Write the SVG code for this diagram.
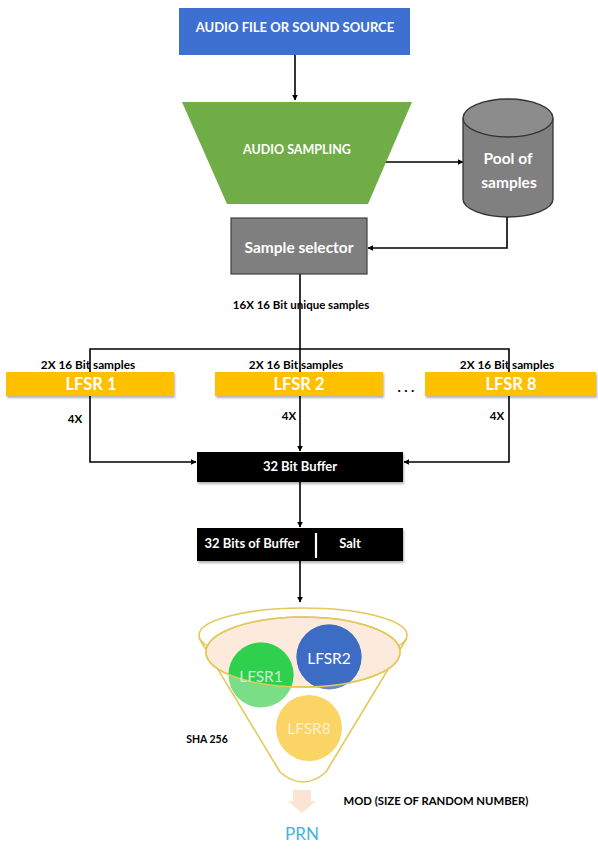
<svg xmlns="http://www.w3.org/2000/svg" width="598" height="850" viewBox="0 0 598 850">
<defs>
<style>
text{font-family:Lato,"Open Sans","Liberation Sans",sans-serif;text-anchor:middle;dominant-baseline:central}
.w{fill:#fff;font-weight:bold}
.k{fill:#000;font-weight:bold}
.ln{stroke:#000;stroke-width:1.6;fill:none}
.lfsr{fill:#FFC000}
</style>
<marker id="ah" viewBox="0 0 10 10" refX="9" refY="5" markerWidth="6" markerHeight="6" orient="auto" markerUnits="userSpaceOnUse">
<path d="M0,0 L10,5 L0,10 z" fill="#000"/>
</marker>
<filter id="sh" x="-5%" y="-20%" width="110%" height="150%">
<feDropShadow dx="1" dy="2" stdDeviation="1.2" flood-color="#000" flood-opacity="0.3"/>
</filter>
<clipPath id="inner"><ellipse cx="303" cy="652" rx="97" ry="35"/></clipPath>
</defs>
<rect width="598" height="850" fill="#fff"/>

<g id="connectors">
<line class="ln" x1="295" y1="55" x2="295" y2="100" marker-end="url(#ah)"/>
<line class="ln" x1="382" y1="162" x2="463" y2="162" marker-end="url(#ah)"/>
<polyline class="ln" points="507,217 507,248 368,248" marker-end="url(#ah)"/>
<line class="ln" x1="300" y1="274" x2="300" y2="451" marker-end="url(#ah)"/>
<polyline class="ln" points="90,372 90,349 509,349 509,372"/>
<polyline class="ln" points="90,396 90,462 196,462" marker-end="url(#ah)"/>
<polyline class="ln" points="509,396 509,462 404,462" marker-end="url(#ah)"/>
<line class="ln" x1="300" y1="482" x2="300" y2="527" marker-end="url(#ah)"/>
<line class="ln" x1="300" y1="561" x2="300" y2="602" marker-end="url(#ah)"/>
</g>

<g id="audio-source">
<rect x="179" y="8" width="231" height="47" fill="#3E70D2"/>
<text class="w" x="295" y="27" font-size="13">AUDIO FILE OR SOUND SOURCE</text>
</g>

<g id="audio-sampling">
<polygon points="182,102 412,102 368,204 227,204" fill="#70AD47"/>
<text class="w" x="297" y="149" font-size="12.5">AUDIO SAMPLING</text>
</g>

<g id="pool">
<path d="M463,118 L463,199 A45,18 0 0 0 553,199 L553,118" fill="#808080" stroke="#333" stroke-width="1.3"/>
<ellipse cx="508" cy="118" rx="45" ry="19" fill="#8c8c8c" stroke="#333" stroke-width="1.3"/>
<text class="w" x="508" y="158" font-size="15.5">Pool of</text>
<text class="w" x="509" y="182" font-size="15.5">samples</text>
</g>

<g id="sample-selector">
<rect x="231" y="218" width="136" height="56" fill="#7F7F7F" stroke="#404040" stroke-width="1.2"/>
<text class="w" x="299" y="247" font-size="15.5">Sample selector</text>
</g>

<text class="k" x="301" y="304" font-size="11.5">16X 16 Bit unique samples</text>

<g id="lfsr1">
<rect class="lfsr" x="6" y="372" width="168" height="24" filter="url(#sh)"/>
<text class="w" x="91" y="384" font-size="16.5">LFSR 1</text>
<text class="k" x="88" y="364" font-size="11.8">2X 16 Bit samples</text>
</g>
<g id="lfsr2">
<rect class="lfsr" x="215" y="372" width="168" height="24" filter="url(#sh)"/>
<text class="w" x="299" y="384" font-size="16.5">LFSR 2</text>
<text class="k" x="296" y="364" font-size="11.8">2X 16 Bit samples</text>
</g>
<text class="k" x="406" y="386" font-size="14">. . .</text>
<g id="lfsr8">
<rect class="lfsr" x="425" y="372" width="171" height="24" filter="url(#sh)"/>
<text class="w" x="511" y="384" font-size="16.5">LFSR 8</text>
<text class="k" x="507" y="364" font-size="11.8">2X 16 Bit samples</text>
</g>

<text class="k" x="75" y="418" font-size="11.5">4X</text>
<text class="k" x="289" y="415" font-size="11.5">4X</text>
<text class="k" x="497" y="415" font-size="11.5">4X</text>

<g id="buffer">
<rect x="197" y="452" width="206" height="30" fill="#050505" filter="url(#sh)"/>
<text class="w" x="300" y="466" font-size="13">32 Bit Buffer</text>
</g>

<g id="salted">
<rect x="197" y="528" width="206" height="33" fill="#050505" filter="url(#sh)"/>
<text class="w" x="252" y="543" font-size="13">32 Bits of Buffer</text>
<line x1="316" y1="533" x2="316" y2="558" stroke="#fff" stroke-width="2.2"/>
<text class="w" x="350" y="543" font-size="13">Salt</text>
</g>

<g id="sha256">
<path d="M199,638 L280,772 Q303,792 326,772 L407,638" fill="#fff" stroke="#E4C85A" stroke-width="1.6"/>
<ellipse cx="303" cy="635" rx="104" ry="27" fill="none" stroke="#E4C85A" stroke-width="1.6"/>
<ellipse cx="303" cy="652" rx="97" ry="35" fill="#FCEBDD" stroke="#E4C85A" stroke-width="1.6"/>
<circle cx="261" cy="675" r="32.5" fill="#79DE86"/>
<circle cx="261" cy="675" r="32.5" fill="#2FD04E" clip-path="url(#inner)"/>
<circle cx="329" cy="657" r="32.5" fill="#6A89BF"/>
<circle cx="329" cy="657" r="32.5" fill="#3C6CC4" clip-path="url(#inner)"/>
<ellipse cx="303" cy="652" rx="97" ry="35" fill="none" stroke="#E4C85A" stroke-width="1.4"/>
<circle cx="309" cy="728" r="33" fill="#FBD466"/>
<text x="261" y="676" font-size="15.5" fill="#C8F0CC">LFSR1</text>
<text x="329" y="658" font-size="15.5" fill="#fff">LFSR2</text>
<text x="309" y="728" font-size="15.5" fill="#FFF1C8">LFSR8</text>
<text class="k" x="207" y="739" font-size="10.5">SHA 256</text>
</g>

<g id="prn">
<path d="M293,790 L311,790 L311,801 L316,801 L302,813 L288,801 L293,801 z" fill="#FCE4D2"/>
<text class="k" x="436" y="800" font-size="11.3">MOD (SIZE OF RANDOM NUMBER)</text>
<text x="302" y="833" font-size="17" fill="#3FB4E0">PRN</text>
</g>
</svg>
